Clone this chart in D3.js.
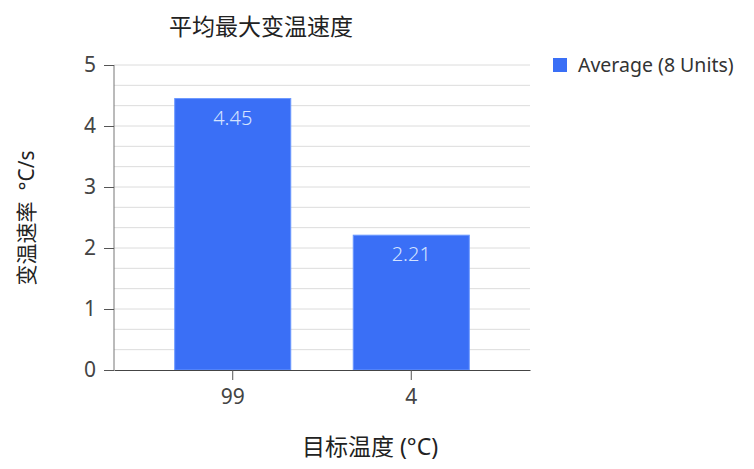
<!DOCTYPE html>
<html>
<head>
<meta charset="utf-8">
<script src="https://cdn.jsdelivr.net/npm/d3@7"></script>
<style>
  body { margin: 0; background: #fff; }
  text { font-family: "Noto Sans", "Noto Sans CJK SC", sans-serif; }
</style>
</head>
<body>
<svg id="chart" width="754" height="469"></svg>
<script>
const categories = ["99", "4"];
const values     = [4.45, 2.21];
const yTicks     = [0, 1, 2, 3, 4, 5];
const seriesName = "Average (8 Units)";

const W = 754, H = 469;
const margin = { top: 65, right: 224, bottom: 99, left: 114 };
const BAR = "#3a6ff6";

const svg = d3.select("#chart");
const g = svg.append("g").attr("transform", `translate(${margin.left},${margin.top})`);
const iw = W - margin.left - margin.right;
const ih = H - margin.top - margin.bottom;

const x = d3.scaleBand().domain(categories).range([0, iw])
  .paddingInner(0.35).paddingOuter(0.34);
const y = d3.scaleLinear().domain([0, 5]).range([ih, 0]);

// grid lines, every third of a unit
const grid = d3.range(1, 16).map(i => i / 3);
g.selectAll("line.grid")
  .data(grid)
  .enter().append("line")
    .attr("class", "grid")
    .attr("x1", 0).attr("x2", iw)
    .attr("y1", d => y(d)).attr("y2", d => y(d))
    .attr("stroke", "#dcdcdc")
    .attr("stroke-width", 1);

// bars
g.selectAll("rect.bar")
  .data(values)
  .enter().append("rect")
    .attr("class", "bar")
    .attr("x", (d, i) => x(categories[i]))
    .attr("y", d => y(d))
    .attr("width", x.bandwidth())
    .attr("height", d => ih - y(d))
    .attr("fill", BAR)
    .attr("stroke", "#6b98ff")
    .attr("stroke-width", 1);

g.selectAll("text.val")
  .data(values)
  .enter().append("text")
    .attr("class", "val")
    .attr("x", (d, i) => x(categories[i]) + x.bandwidth() / 2)
    .attr("y", d => y(d) + 26)
    .attr("text-anchor", "middle")
    .attr("fill", "#d4e2ff")
    .attr("font-size", 20)
    .attr("font-weight", 300)
    .text(d => d.toFixed(2));

// y axis
const yAxis = g.append("g")
  .call(d3.axisLeft(y).tickValues(yTicks).tickSize(10).tickPadding(8).tickFormat(d3.format("d")));
yAxis.select(".domain").attr("stroke", "#777").attr("d", `M0,0V${ih}`);
yAxis.selectAll(".tick line").attr("stroke", "#555");
yAxis.selectAll(".tick text").attr("font-size", 21).attr("fill", "#444")
  .attr("font-family", "'Noto Sans', sans-serif");

// x axis
const xAxis = g.append("g").attr("transform", `translate(0,${ih})`)
  .call(d3.axisBottom(x).tickSize(10).tickPadding(9).tickSizeOuter(0));
xAxis.select(".domain").attr("stroke", "#444");
xAxis.selectAll(".tick line").attr("stroke", "#555");
xAxis.selectAll(".tick text").attr("font-size", 21).attr("fill", "#444")
  .attr("font-family", "'Noto Sans', sans-serif");

// title
svg.append("text")
  .attr("x", 261).attr("y", 35)
  .attr("text-anchor", "middle")
  .attr("font-size", 23)
  .attr("fill", "#222")
  .text("平均最大变温速度");

// axis titles
svg.append("text")
  .attr("x", 370).attr("y", 455)
  .attr("text-anchor", "middle")
  .attr("font-size", 23)
  .attr("fill", "#222")
  .text("目标温度 (°C)");

svg.append("text")
  .attr("transform", "translate(34,218) rotate(-90)")
  .attr("text-anchor", "middle")
  .attr("font-size", 21)
  .attr("fill", "#222")
  .attr("xml:space", "preserve")
  .text("变温速率  °C/s");

// legend
const leg = svg.append("g").attr("transform", "translate(553,58)");
leg.append("rect").attr("width", 14).attr("height", 14).attr("fill", BAR);
leg.append("text")
  .attr("x", 25).attr("y", 14)
  .attr("font-size", 19.5)
  .attr("fill", "#333")
  .text(seriesName);
</script>
</body>
</html>
